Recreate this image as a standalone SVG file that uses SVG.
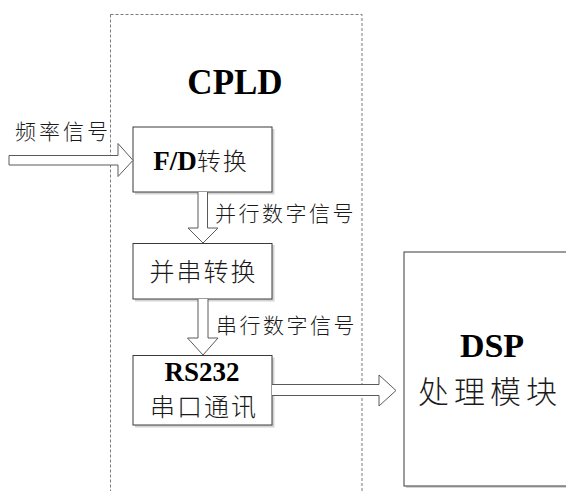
<svg xmlns="http://www.w3.org/2000/svg" width="566" height="491" viewBox="0 0 566 491">
<style>
.box{fill:#fff;stroke:#3a3a3a;stroke-width:1}
.shadow{fill:#d4d4d4;stroke:none}
.arrow{fill:#fff;stroke:#5a5a5a;stroke-width:1;stroke-linejoin:miter}
.dash{fill:none;stroke:#7a7a7a;stroke-width:1;stroke-dasharray:3 2}
.cn{font-family:"Noto Sans CJK SC","Noto Sans",sans-serif;font-weight:300;fill:#1a1a1a}
.en{font-family:"Liberation Serif","Times New Roman",serif;font-weight:bold;fill:#000}
</style>
<rect width="566" height="491" fill="#fff"/>
<g id="cpld">
<rect class="dash" x="110.5" y="14.5" width="251.5" height="490"/>
<text class="en" x="235" y="94" font-size="35" text-anchor="middle">CPLD</text>
</g>
<g id="fd">
<rect class="shadow" x="135" y="129" width="139.5" height="65.5"/>
<rect class="box" x="133" y="127" width="139" height="65"/>
<text x="201" y="170" text-anchor="middle"><tspan class="en" font-size="27">F/D</tspan><tspan class="cn" font-size="24" letter-spacing="2">转换</tspan></text>
</g>
<g id="ps">
<rect class="shadow" x="135" y="245" width="139.5" height="56.5"/>
<rect class="box" x="133" y="243.5" width="139" height="55.5"/>
<text class="cn" x="203.5" y="281" font-size="25" letter-spacing="2" text-anchor="middle">并串转换</text>
</g>
<g id="rs232">
<rect class="shadow" x="135" y="357.5" width="139.5" height="70"/>
<rect class="box" x="133" y="355.5" width="139" height="69.5"/>
<text class="en" x="202" y="381" font-size="27" text-anchor="middle">RS232</text>
<text class="cn" x="204" y="416" font-size="25" letter-spacing="2" text-anchor="middle">串口通讯</text>
</g>
<g id="dsp">
<rect class="shadow" x="406" y="254" width="170" height="234"/>
<rect class="box" x="404" y="252" width="170" height="234"/>
<text class="en" x="492" y="357" font-size="34" text-anchor="middle">DSP</text>
<text class="cn" x="490" y="403" font-size="31" letter-spacing="5" text-anchor="middle">处理模块</text>
</g>
<g id="labels">
<text class="cn" x="15" y="139" font-size="21" letter-spacing="3">频率信号</text>
<text class="cn" x="215" y="221" font-size="21" letter-spacing="2.5">并行数字信号</text>
<text class="cn" x="216" y="333" font-size="21" letter-spacing="2.5">串行数字信号</text>
</g>
<g id="connectors">
<path class="arrow" d="M9,155.5 L118,155.5 L118,143.5 L133,160.3 L118,176.5 L118,165 L9,165 Z"/>
<path class="arrow" d="M198,192 L198,228 L188,228 L203,243 L218,228 L207.5,228 L207.5,192"/>
<path class="arrow" d="M198,299 L198,338 L187.5,338 L203,355 L218,338 L208,338 L208,299"/>
<path class="arrow" d="M272,384.5 L379,384.5 L379,375 L396,390.5 L379,406 L379,395.5 L272,395.5"/>
</g>
</svg>
